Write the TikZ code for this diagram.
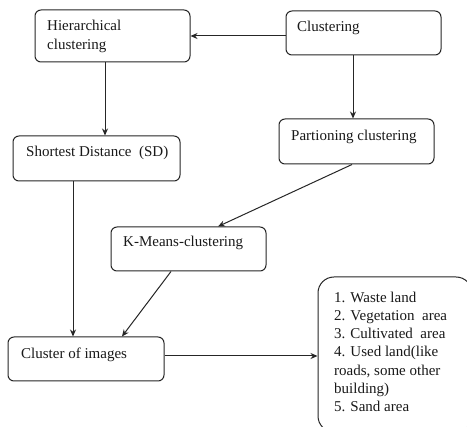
\documentclass[tikz,border=0pt]{standalone}
\usepackage{fontspec}
\setmainfont{Liberation Serif}
\usetikzlibrary{arrows.meta}
\begin{document}
\begin{tikzpicture}[x=1pt,y=-1pt,
  box/.style={draw=black!85, line width=1pt, rounded corners=6pt, inner sep=0pt},
  txt/.style={inner sep=0pt, anchor=north west, align=left, text=black!90, font=\fontsize{15}{18.3}\selectfont},
  arr/.style={draw=black!85, line width=1pt, -{Stealth[length=7pt,width=6pt]}}]
\fill[white] (0,0) rectangle (467,427);
\useasboundingbox (0,0) rectangle (467,427);
% boxes
\node[box, minimum width=155pt, minimum height=52pt] (hier) at (112.5,36) {};
\node[box, minimum width=155pt, minimum height=44pt] (clus) at (363.5,33) {};
\node[box, minimum width=167pt, minimum height=45pt] (sd) at (96.5,158.5) {};
\node[box, minimum width=155pt, minimum height=45pt] (part) at (356.5,141.5) {};
\node[box, minimum width=155pt, minimum height=44pt] (km) at (188.5,249) {};
\node[box, minimum width=156pt, minimum height=44pt] (coi) at (86,359) {};
\node[box, rounded corners=16pt, minimum width=154pt, minimum height=155pt] (list) at (395,354.5) {};
% texts
\node[txt] (hiert) at (47,20.3) {Hierarchical\\clustering};
\node[txt] (clust) at (297,20.6) {Clustering};
\node[txt] (sdt) at (26,146.3) {Shortest Distance\ \ (SD)};
\node[txt] (partt) at (291,129.6) {Partioning clustering};
\node[txt] (kmt) at (123,236.3) {K-Means-clustering};
\node[txt] (coit) at (21,348.1) {Cluster of images};
\node[txt] (listt) at (334,291.4) {1. Waste land\\2. Vegetation\ \ area\\3. Cultivated\ \ area\\4. Used land(like\\roads, some other\\building)\\5. Sand area};
% connectors
\draw[arr] (clus.west |- hier.east) -- (hier.east);
\draw[arr] ([xshift=-7.5pt]hier.south) -- ([xshift=-7.5pt]hier.south |- sd.north);
\draw[arr] ([xshift=-10.5pt]clus.south) -- ([xshift=-10.5pt]clus.south |- part.north);
\draw[arr] ([xshift=-4.5pt]part.south) -- ([xshift=29.5pt]km.north);
\draw[arr] ([xshift=-23.5pt]sd.south) -- ([xshift=-23.5pt]sd.south |- coi.north);
\draw[arr] ([xshift=-17.5pt]km.south) -- ([xshift=36pt]coi.north);
\draw[arr] ([yshift=3pt]coi.east) -- ([yshift=3pt]coi.east -| list.west);
\end{tikzpicture}
\end{document}
